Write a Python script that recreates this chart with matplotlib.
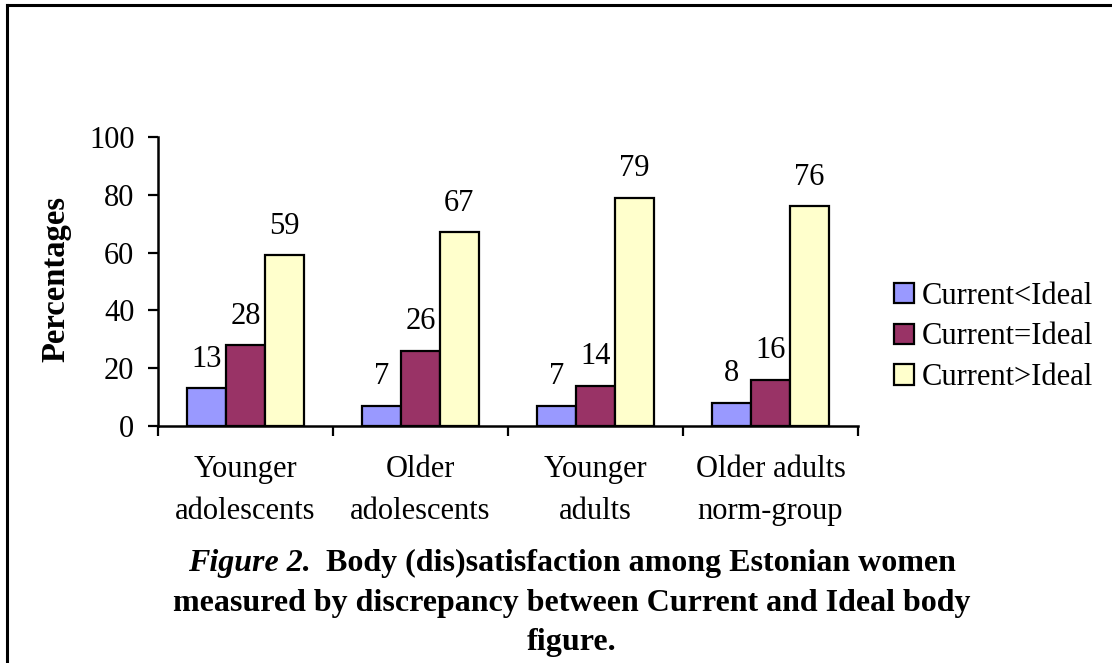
import matplotlib
matplotlib.use('Agg')
import matplotlib.pyplot as plt
from matplotlib.lines import Line2D
from matplotlib.patches import Patch
import numpy as np

# data
groups = ['Younger\nadolescents', 'Older\nadolescents', 'Younger\nadults', 'Older adults\nnorm-group']
series = ['Current<Ideal', 'Current=Ideal', 'Current>Ideal']
less_ideal = [13, 7, 7, 8]
equal_ideal = [28, 26, 14, 16]
more_ideal = [59, 67, 79, 76]
colours = ['#9999FF', '#993366', '#FFFFCC']

plt.rcParams['font.family'] = ['Liberation Serif', 'DejaVu Serif']
plt.rcParams['font.size'] = 22

W, H = 1112, 663
fig = plt.figure(figsize=(W / 100, H / 100), dpi=100)
fig.patch.set_facecolor('white')

# outer frame (only top and left visible in the crop)
fig.add_artist(Line2D([7 / W, 7 / W], [0, 1 - 5 / H], transform=fig.transFigure, color='black', lw=2.2))
fig.add_artist(Line2D([7 / W, 1], [1 - 5 / H, 1 - 5 / H], transform=fig.transFigure, color='black', lw=2.2))

ax = fig.add_axes([158 / W, (H - 426) / H, 700 / W, 289 / H])

x = np.arange(len(groups))
width = 0.222
for i, (vals, col, lab) in enumerate(zip([less_ideal, equal_ideal, more_ideal], colours, series)):
    bars = ax.bar(x + (i - 1) * width, vals, width, color=col, edgecolor='black', linewidth=1.6, label=lab, zorder=3)
    for b, v in zip(bars, vals):
        ax.annotate(str(v), (b.get_x() + b.get_width() / 2, v), xytext=(0, 15.5), textcoords='offset points',
                    ha='center', va='baseline')

ax.set_xlim(-0.5, len(groups) - 0.5)
ax.set_ylim(0, 100)
ax.set_yticks(range(0, 101, 20))
ax.tick_params(axis='y', length=7, width=1.6, pad=10, direction='out')

ax.set_xticks(x)
ax.set_xticklabels(groups, linespacing=1.6)
ax.set_xticks(np.arange(-0.5, len(groups), 1), minor=True)
ax.tick_params(axis='x', which='major', length=0, pad=21)
ax.tick_params(axis='x', which='minor', length=7, width=1.6, direction='out')

for s in ['top', 'right']:
    ax.spines[s].set_visible(False)
for s in ['left', 'bottom']:
    ax.spines[s].set_linewidth(1.8)

fig.text(56 / W, 1 - 279 / H, 'Percentages', rotation=90, fontweight='bold', fontsize=23.5, ha='center', va='center')

handles = [Patch(facecolor=c, edgecolor='black', linewidth=1.6) for c in colours]
fig.legend(handles, series, loc='center left', bbox_to_anchor=(879 / W, 1 - 337 / H), frameon=False,
           handlelength=0.65, handleheight=0.65, handletextpad=0.25, labelspacing=0.39, borderpad=0)

# caption: first line mixes bold italic and bold
cap = 23
fig.canvas.draw()
r = fig.canvas.get_renderer()
t1 = fig.text(0, 1 - 571 / H, 'Figure 2.', fontweight='bold', fontstyle='italic', fontsize=cap, ha='left', va='baseline')
t2 = fig.text(0, 1 - 571 / H, '  Body (dis)satisfaction among Estonian women', fontweight='bold', fontsize=cap,
              ha='left', va='baseline')
w1 = t1.get_window_extent(r).width
w2 = t2.get_window_extent(r).width
x0 = 572 - (w1 + w2) / 2
t1.set_x(x0 / W)
t2.set_x((x0 + w1) / W)
fig.text(572 / W, 1 - 611 / H, 'measured by discrepancy between Current and Ideal body', fontweight='bold', fontsize=cap,
         ha='center', va='baseline')
fig.text(572 / W, 1 - 650 / H, 'figure.', fontweight='bold', fontsize=cap, ha='center', va='baseline')

fig.savefig('out.png', dpi=100, facecolor='white')
